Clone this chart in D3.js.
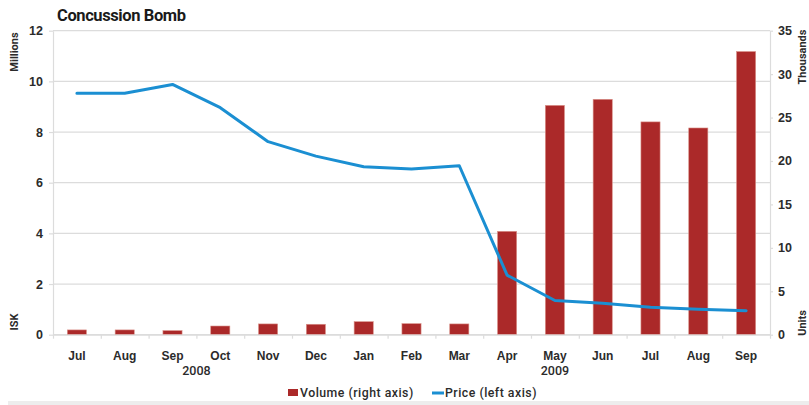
<!DOCTYPE html>
<html>
<head>
<meta charset="utf-8">
<script src="https://cdn.jsdelivr.net/npm/d3@7"></script>
<style>
  html, body { margin: 0; padding: 0; background: #fff; }
  svg { display: block; font-family: Roboto, "Noto Sans", sans-serif; }
</style>
</head>
<body>
<svg id="chart" width="809" height="405"></svg>
<script>
// Monthly categories, Jul 2008 – Sep 2009
const months = ["Jul", "Aug", "Sep", "Oct", "Nov", "Dec", "Jan", "Feb", "Mar", "Apr", "May", "Jun", "Jul", "Aug", "Sep"];
const years = ["2008", "2008", "2008", "2008", "2008", "2008", "2009", "2009", "2009", "2009", "2009", "2009", "2009", "2009", "2009"];

// Traded volume, thousands of units (right axis)
const volume = [0.55, 0.55, 0.47, 1.0, 1.24, 1.2, 1.5, 1.27, 1.24, 11.9, 26.4, 27.1, 24.5, 23.8, 32.6];

// Average price, millions ISK (left axis)
const price = [9.53, 9.53, 9.88, 8.96, 7.62, 7.05, 6.63, 6.54, 6.67, 2.35, 1.35, 1.24, 1.08, 1.0, 0.95];

const leftTicks = [0, 2, 4, 6, 8, 10, 12];
const rightTicks = [0, 5, 10, 15, 20, 25, 30, 35];

const seriesNames = ["Volume (right axis)", "Price (left axis)"];
const title = "Concussion Bomb";

const W = 809, H = 405;
const plot = { left: 53, right: 770, top: 30.7, bottom: 334.7 };
const barColor = "#ab2929";
const lineColor = "#1b8fd2";
const gridColor = "#dcdcdc";
const textColor = "#2b2b2b";

const svg = d3.select("#chart");

const idx = d3.range(months.length);
const x = d3.scaleBand().domain(idx).range([plot.left, plot.right]).paddingInner(0).paddingOuter(0);
const xEdge = d3.scaleLinear().domain([0, months.length]).range([plot.left, plot.right]);
const yL = d3.scaleLinear().domain([0, 12]).range([plot.bottom, plot.top]);
const yR = d3.scaleLinear().domain([0, 35]).range([plot.bottom, plot.top]);

// Horizontal gridlines on the left-axis scale
svg.append("g")
  .selectAll("line")
  .data(leftTicks)
  .join("line")
  .attr("x1", plot.left).attr("x2", plot.right)
  .attr("y1", d => yL(d)).attr("y2", d => yL(d))
  .attr("stroke", gridColor).attr("stroke-width", 1.2);

// Volume bars
const bw = x.bandwidth() * 0.4;
svg.append("g")
  .selectAll("rect")
  .data(volume)
  .join("rect")
  .attr("x", (d, i) => x(i) + (x.bandwidth() - bw) / 2)
  .attr("y", d => yR(d))
  .attr("width", bw)
  .attr("height", d => yR(0) - yR(d))
  .attr("fill", barColor)
  .attr("stroke", "#d99189")
  .attr("stroke-width", 0.6);

// Price line
const line = d3.line()
  .x((d, i) => x(i) + x.bandwidth() / 2)
  .y(d => yL(d));
svg.append("path")
  .datum(price)
  .attr("d", line)
  .attr("fill", "none")
  .attr("stroke", lineColor)
  .attr("stroke-width", 3)
  .attr("stroke-linejoin", "round")
  .attr("stroke-linecap", "round");

function styleAxis(g) {
  g.select(".domain").attr("stroke", gridColor).attr("stroke-width", 1.2);
  g.selectAll(".tick line").attr("stroke", gridColor).attr("stroke-width", 1.2);
  g.selectAll(".tick text")
    .attr("fill", textColor)
    .style("font-size", "12.5px")
    .style("font-weight", "600");
}

// Left axis
svg.append("g")
  .attr("transform", `translate(${plot.left},0)`)
  .call(d3.axisLeft(yL).tickValues(leftTicks).tickSize(4).tickSizeOuter(0).tickPadding(6))
  .call(styleAxis);

// Right axis
svg.append("g")
  .attr("transform", `translate(${plot.right},0)`)
  .call(d3.axisRight(yR).tickValues(rightTicks).tickSize(3).tickSizeOuter(0).tickPadding(5))
  .call(styleAxis);

// Bottom axis: boundary ticks
svg.append("g")
  .attr("transform", `translate(0,${plot.bottom})`)
  .call(d3.axisBottom(xEdge).tickValues(d3.range(months.length + 1)).tickFormat("").tickSize(4).tickSizeOuter(0))
  .call(styleAxis);

// Bottom axis: month labels
const monthAxis = svg.append("g")
  .attr("transform", `translate(0,${plot.bottom})`)
  .call(d3.axisBottom(x).tickFormat(i => months[i]).tickSize(0).tickPadding(17));
monthAxis.select(".domain").remove();
monthAxis.selectAll(".tick text")
  .attr("fill", textColor)
  .style("font-size", "12px")
  .style("font-weight", "600");

// Year group labels, centred under each year's months
const yearGroups = d3.groups(idx, i => years[i]);
svg.append("g")
  .selectAll("text")
  .data(yearGroups)
  .join("text")
  .attr("x", ([, is]) => (xEdge(d3.min(is)) + xEdge(d3.max(is) + 1)) / 2)
  .attr("y", 375)
  .attr("text-anchor", "middle")
  .attr("fill", textColor)
  .style("font-size", "12.5px")
  .style("font-weight", "500")
  .text(([yr]) => yr);

// Axis titles
function vLabel(txt, cx, cy) {
  svg.append("text")
    .attr("transform", `translate(${cx},${cy}) rotate(-90)`)
    .attr("text-anchor", "middle")
    .attr("dominant-baseline", "middle")
    .attr("fill", textColor)
    .style("font-size", "11px")
    .style("font-weight", "700")
    .text(txt);
}
vLabel("Millions", 15, 52);
vLabel("ISK", 15, 322);
vLabel("Thousands", 803, 57);
vLabel("Units", 803, 323);

// Title
svg.append("text")
  .attr("x", 57).attr("y", 21)
  .attr("fill", "#1a1a1a")
  .style("font-size", "16.5px")
  .style("font-weight", "700")
  .style("letter-spacing", "-0.4px")
  .text(title);

// Legend
const legend = svg.append("g");
legend.append("rect")
  .attr("x", 288).attr("y", 389).attr("width", 10).attr("height", 7)
  .attr("fill", barColor);
legend.append("text")
  .attr("x", 300).attr("y", 397)
  .attr("fill", textColor)
  .style("font-size", "12.3px").style("font-weight", "500")
  .style("letter-spacing", "0.5px")
  .text(seriesNames[0]);
legend.append("line")
  .attr("x1", 432).attr("x2", 444).attr("y1", 393).attr("y2", 393)
  .attr("stroke", lineColor).attr("stroke-width", 3);
legend.append("text")
  .attr("x", 445).attr("y", 397)
  .attr("fill", textColor)
  .style("font-size", "12.3px").style("font-weight", "500")
  .style("letter-spacing", "0.5px")
  .text(seriesNames[1]);

// Footer band
svg.append("rect")
  .attr("x", 8).attr("y", 401).attr("width", W - 8).attr("height", 4)
  .attr("fill", "#ededed");
</script>
</body>
</html>
